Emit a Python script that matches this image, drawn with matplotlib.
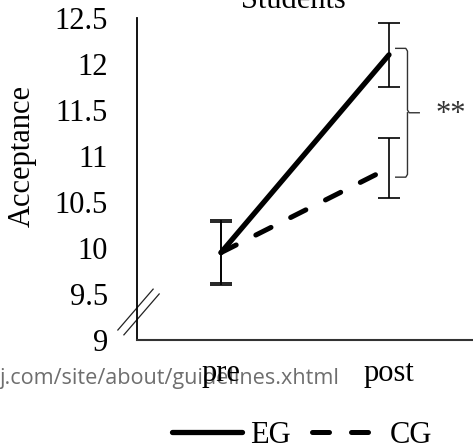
import matplotlib
matplotlib.use("Agg")
import matplotlib.pyplot as plt
from matplotlib.lines import Line2D

# data
etapas = ["pre", "post"]
eg_media = [9.95, 12.10]
eg_error = [0.35, 0.35]
cg_media = [9.95, 10.87]
cg_error = [0.33, 0.33]
yticks = [9, 9.5, 10, 10.5, 11, 11.5, 12, 12.5]

serif = "Liberation Serif"
fs = 22
guion = (0, (3.4, 4.4))

fig = plt.figure(figsize=(4.73, 4.48), dpi=100)
ax = fig.add_axes([137 / 473, 1 - 340 / 448, 336 / 473, 322 / 448])

x = list(range(len(etapas)))
ax.errorbar(x, eg_media, yerr=eg_error, fmt="none", ecolor="black",
            elinewidth=1.2, capsize=8, capthick=1.2, zorder=2)
ax.errorbar(x, cg_media, yerr=cg_error, fmt="none", ecolor="black",
            elinewidth=1.2, capsize=8, capthick=1.2, zorder=2)
ax.plot(x, eg_media, color="black", lw=3.8, solid_capstyle="round",
        label="EG", zorder=3)
ax.plot(x, cg_media, color="black", lw=3.6, linestyle=guion,
        dash_capstyle="round", label="CG", zorder=3)

ax.set_xlim(-0.5, 1.5)
ax.set_ylim(9, 12.5)
ax.set_yticks(yticks)
ax.set_yticklabels([f"{v:g}" for v in yticks], fontfamily=serif, fontsize=fs)
ax.set_xticks(x)
ax.set_xticklabels(etapas, fontfamily=serif, fontsize=fs)
ax.tick_params(axis="y", length=0, pad=21)
ax.tick_params(axis="x", length=0, pad=14)
for s in ["top", "right"]:
    ax.spines[s].set_visible(False)
ax.spines["left"].set_linewidth(1.3)
ax.spines["bottom"].set_linewidth(1.5)
ax.spines["bottom"].set_color("#333333")

# axis break marks
for dx, dy in [(0, 0), (0.018, -0.015)]:
    ax.plot([-0.057 + dx, 0.048 + dx], [0.031 + dy, 0.158 + dy],
            transform=ax.transAxes, color="#222222", lw=0.9, clip_on=False)

# significance bracket
bx0, bx1, bx2 = 1.04, 1.11, 1.18
ytop, ybot = 12.17, 10.77
ymid = (ytop + ybot) / 2
ax.plot([bx0, bx1 - 0.01, bx1, bx1, bx1 + 0.01, bx2],
        [ytop, ytop, ytop - 0.03, ymid + 0.03, ymid, ymid],
        color="#333333", lw=1.0, clip_on=False)
ax.plot([bx0, bx1 - 0.01, bx1, bx1],
        [ybot, ybot, ybot + 0.03, ymid],
        color="#333333", lw=1.0, clip_on=False)
ax.text(1.275, ymid - 0.02, "**", fontfamily=serif, fontsize=fs,
        color="#333333", va="center", ha="left", clip_on=False)

fig.text(22 / 473, 1 - 156 / 448, "Acceptance", rotation=90, ha="center",
         va="center", fontfamily=serif, fontsize=fs)
fig.text(293 / 473, 1 - 8 / 448, "Students", ha="center", va="baseline",
         fontfamily=serif, fontsize=fs)

# watermark overlapping the category labels
fig.text(-0.002, 1 - 378 / 448, "j.com/site/about/guidelines.xhtml",
         fontfamily="Open Sans", fontsize=15.6, color="#6e6e6e",
         ha="left", va="center", zorder=-1)

handles = [Line2D([], [], color="black", lw=3.8, solid_capstyle="round"),
           Line2D([], [], color="black", lw=3.6, linestyle=guion,
                  dash_capstyle="round")]
fig.legend(handles, ["EG", "CG"], loc="center", ncol=2, frameon=False,
           bbox_to_anchor=(302 / 473, 1 - 435 / 448),
           prop={"family": serif, "size": fs}, handlelength=2.3,
           handletextpad=0.25, columnspacing=0.7, borderpad=0)

fig.savefig("out.png", dpi=100)
